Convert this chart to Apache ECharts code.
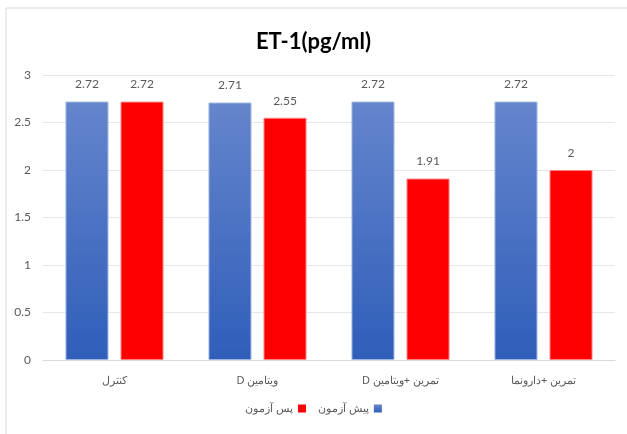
<!DOCTYPE html>
<html><head><meta charset="utf-8">
<script src="https://cdn.jsdelivr.net/npm/echarts@6/dist/echarts.min.js"></script>
<style>html,body{margin:0;padding:0;background:#fff}#c{width:627px;height:434px}</style>
</head><body><div id="c"></div>
<script>
const categories = ['کنترل', 'ویتامین D', 'تمرین +ویتامین D', 'تمرین +دارونما'];
const preTest = [2.72, 2.71, 2.72, 2.72];
const postTest = [2.72, 2.55, 1.91, 2];
const seriesNames = ['پیش آزمون', 'پس آزمون'];
const chart = echarts.init(document.getElementById('c'));
const lbl = {show: true, position: 'top', color: '#595959', fontSize: 12, fontFamily: 'Lato, sans-serif', distance: 11};
chart.setOption({
  animation: false,
  graphic: [{type: 'rect', shape: {x: 6, y: 8, width: 700, height: 500}, style: {fill: 'none', stroke: '#d9d9d9', lineWidth: 1}}],
  title: {text: 'ET-1(pg/ml)', left: 'center', top: 26, textStyle: {fontSize: 22, fontWeight: 'bold', color: '#000', fontFamily: 'Lato, sans-serif'}},
  grid: {left: 43, right: 12, top: 75, bottom: 74},
  legend: {data: [seriesNames[1], seriesNames[0]], bottom: 15, left: 'center', align: 'right', icon: 'rect', itemWidth: 8, itemHeight: 8, itemGap: 12,
    itemStyle: {borderWidth: 0},
    formatter: n => '\u2067' + n + '\u2069',
    textStyle: {color: '#595959', fontSize: 11, fontFamily: 'Noto Sans, sans-serif'}},
  xAxis: {type: 'category', data: categories, axisTick: {show: false}, axisLine: {lineStyle: {color: '#d9d9d9'}},
    axisLabel: {color: '#595959', fontSize: 11, margin: 15, fontFamily: 'Noto Sans, sans-serif', formatter: v => '\u2067' + v + '\u2069'}},
  yAxis: {type: 'value', min: 0, max: 3, interval: 0.5, axisLine: {show: false}, axisTick: {show: false},
    splitLine: {lineStyle: {color: '#e6e6e6'}}, axisLabel: {color: '#595959', fontSize: 12, margin: 12, fontFamily: 'Lato, sans-serif'}},
  series: [
    {name: seriesNames[0], type: 'bar', data: preTest, barWidth: 43, barGap: '28%', label: lbl,
      itemStyle: {color: new echarts.graphic.LinearGradient(0, 0, 0, 1, [{offset: 0, color: '#6585cc'}, {offset: 1, color: '#2f5eb9'}]), borderColor: '#9db3e0', borderWidth: 1}},
    {name: seriesNames[1], type: 'bar', data: postTest, barWidth: 43, label: lbl,
      itemStyle: {color: '#ff0000', borderColor: '#ff8080', borderWidth: 1}}
  ]
});
</script></body></html>
